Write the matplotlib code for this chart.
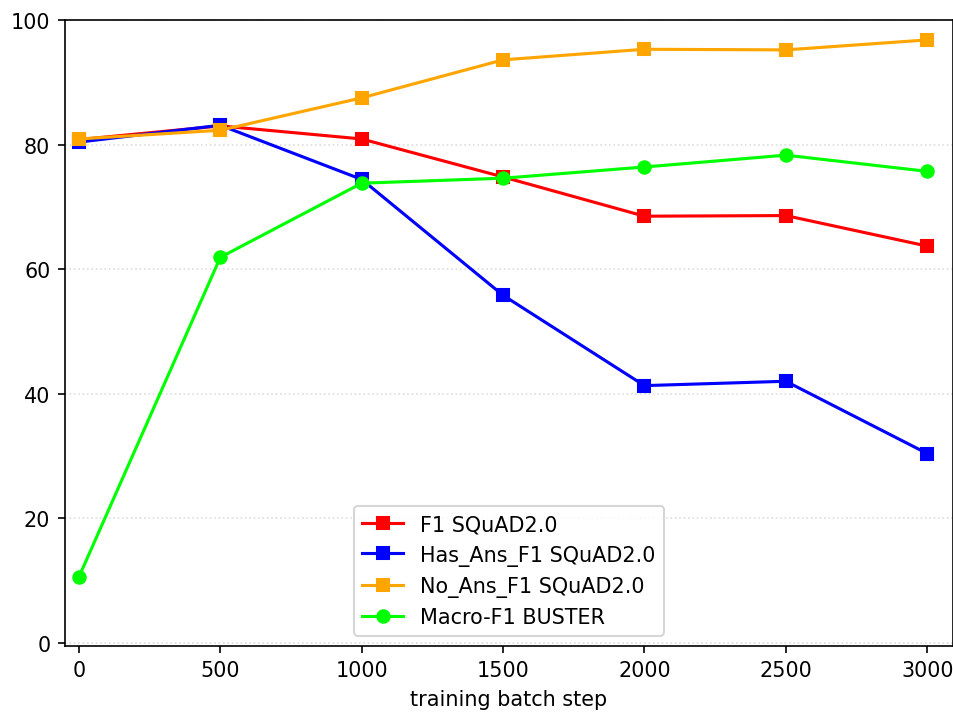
import matplotlib
matplotlib.use('Agg')
import matplotlib.pyplot as plt

steps = [0, 500, 1000, 1500, 2000, 2500, 3000]
f1_squad = [80.8, 83.0, 80.9, 74.8, 68.5, 68.6, 63.7]
has_ans_f1 = [80.4, 83.1, 74.4, 55.8, 41.3, 42.0, 30.4]
no_ans_f1 = [80.9, 82.3, 87.5, 93.6, 95.3, 95.2, 96.8]
macro_f1_buster = [10.6, 61.9, 73.8, 74.6, 76.4, 78.3, 75.7]

fig = plt.figure(figsize=(6.4, 4.785), dpi=149)
ax = fig.add_axes([0.068, 0.0926, 0.931, 0.878])

ax.plot(steps, f1_squad, color='red', marker='s', label='F1 SQuAD2.0')
ax.plot(steps, has_ans_f1, color='blue', marker='s', label='Has_Ans_F1 SQuAD2.0')
ax.plot(steps, no_ans_f1, color='orange', marker='s', label='No_Ans_F1 SQuAD2.0')
ax.plot(steps, macro_f1_buster, color='lime', marker='o', label='Macro-F1 BUSTER')

ax.set_xlim(-50, 3090)
ax.set_ylim(-0.5, 100)
ax.set_xticks(steps)
ax.set_yticks([0, 20, 40, 60, 80, 100])
ax.grid(axis='y', color='#dddddd', linestyle=':', linewidth=0.8)
ax.set_xlabel('training batch step')
ax.legend(loc='lower center')

plt.savefig('out.png', dpi=149)
